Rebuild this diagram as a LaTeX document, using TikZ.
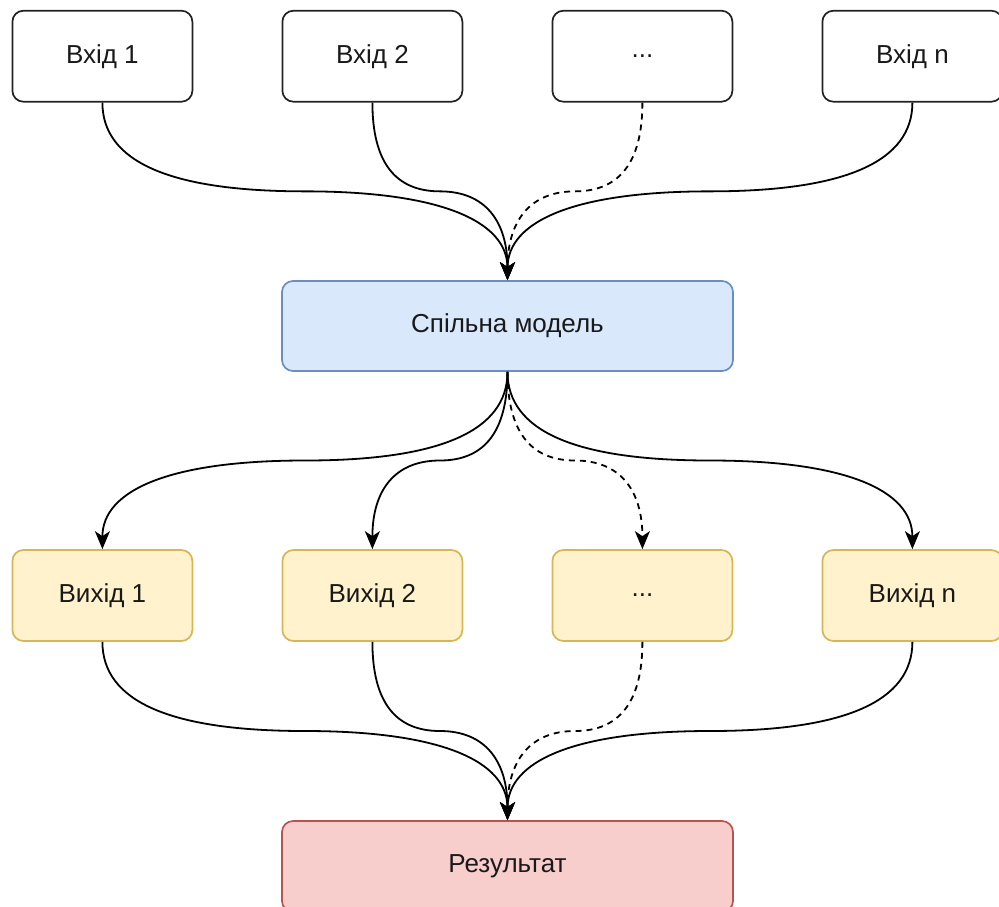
\documentclass[tikz,border=0pt]{standalone}
\usepackage{fontspec}
\setmainfont{Liberation Sans}
\usetikzlibrary{arrows.meta,calc}
\definecolor{bluefill}{HTML}{DAE8FC}
\definecolor{bluestroke}{HTML}{6C8EBF}
\definecolor{yelfill}{HTML}{FFF2CC}
\definecolor{yelstroke}{HTML}{D6B656}
\definecolor{redfill}{HTML}{F8CECC}
\definecolor{redstroke}{HTML}{B85450}
\definecolor{boxline}{HTML}{222222}
\newcommand{\dioedge}[3]{%
  \path (#2.south) coordinate (dS) (#3.north) coordinate (dT);
  \path ($(dS)!0.5!(dT)$) coordinate (dM);
  \path (dS |- dM) coordinate (dCa) (dT |- dM) coordinate (dCb);
  \draw[conn,#1] (dS) .. controls ($(dS)!2/3!(dCa)$) and ($(dM)!2/3!(dCa)$) .. (dM)
    .. controls ($(dM)!2/3!(dCb)$) and ($(dT)!2/3!(dCb)$) .. (dT);
}
\begin{document}
\begin{tikzpicture}[x=1pt,y=-1pt,
  box/.style={draw=boxline,line width=1.7pt,rounded corners=11pt,fill=white,
    minimum width=180pt,minimum height=91pt,inner sep=0pt,
    font=\fontsize{26}{30}\selectfont,text=black!90},
  inbox/.style={box},
  modelbox/.style={box,draw=bluestroke,fill=bluefill,minimum width=451pt,minimum height=90pt},
  outbox/.style={box,draw=yelstroke,fill=yelfill},
  resbox/.style={box,draw=redstroke,fill=redfill,minimum width=451pt},
  conn/.style={line width=1.8pt,black,-{Stealth[length=18pt,width=15pt,inset=5pt]}},
  dashconn/.style={dash pattern=on 6pt off 5pt}
]
\useasboundingbox (0,0) rectangle (999,906);
\clip (0,0) rectangle (999,906);
\node[inbox] (i1) at (102.4,56.2) {Вхід 1};
\node[inbox] (i2) at (372.4,56.2) {Вхід 2};
\node[inbox] (i3) at (642.4,56.2) {...};
\node[inbox] (i4) at (912.4,56.2) {Вхід n};
\node[modelbox] (m) at (507.5,326) {Спільна модель};
\node[outbox] (o1) at (102.4,595.5) {Вихід 1};
\node[outbox] (o2) at (372.4,595.5) {Вихід 2};
\node[outbox] (o3) at (642.4,595.5) {...};
\node[outbox] (o4) at (912.4,595.5) {Вихід n};
\node[resbox] (r) at (507.5,866.5) {Результат};
\dioedge{}{i1}{m}
\dioedge{}{i2}{m}
\dioedge{dashconn}{i3}{m}
\dioedge{}{i4}{m}
\dioedge{}{m}{o1}
\dioedge{}{m}{o2}
\dioedge{dashconn}{m}{o3}
\dioedge{}{m}{o4}
\dioedge{}{o1}{r}
\dioedge{}{o2}{r}
\dioedge{dashconn}{o3}{r}
\dioedge{}{o4}{r}
\end{tikzpicture}
\end{document}
